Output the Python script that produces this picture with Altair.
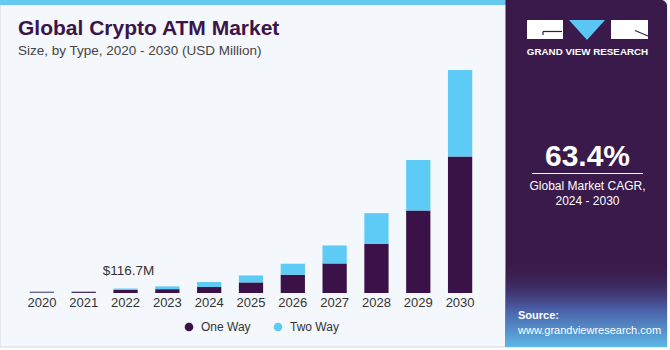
import altair as alt
import pandas as pd

years = ["2020", "2021", "2022", "2023", "2024", "2025", "2026", "2027", "2028", "2029", "2030"]
one_way = [22, 24, 80, 100, 156, 276, 476, 770, 1282, 2148, 3553]
two_way = [22, 24, 36.7, 72, 130, 182, 286, 468, 798, 1318, 2255]
series = ["One Way", "Two Way"]
colors = ["#3A1248", "#5DCBF5"]
annot_year = "2022"
annot_text = "$116.7M"

FONT = "Liberation Sans"
OX, OY = 21, 70          # plot origin on the canvas
W, H = 460, 223


def X(px):
    return px - OX


def Y(py):
    return py - OY


rows = []
for i, yr in enumerate(years):
    rows.append({"year": yr, "type": series[0], "value": one_way[i], "ord": 0})
    rows.append({"year": yr, "type": series[1], "value": two_way[i], "ord": 1})
df = pd.DataFrame(rows)
ymax = max(a + b for a, b in zip(one_way, two_way))

one = pd.DataFrame({"k": [0]})


def rect(x1, x2, y1, y2, **kw):
    return alt.Chart(one).mark_rect(**kw).encode(
        x=alt.value(X(x1)), x2=alt.value(X(x2)), y=alt.value(Y(y1)), y2=alt.value(Y(y2))
    )


def text(s, x, y, **kw):
    return alt.Chart(one).mark_text(font=FONT, **kw).encode(
        x=alt.value(X(x)), y=alt.value(Y(y)), text=alt.value(s)
    )


def rule(x1, y1, x2, y2, **kw):
    return alt.Chart(one).mark_rule(**kw).encode(
        x=alt.value(X(x1)), x2=alt.value(X(x2)), y=alt.value(Y(y1)), y2=alt.value(Y(y2))
    )


card = rect(0, 667, 0, 347, color="#F4F7FB", stroke="#D6DAE0", strokeWidth=1)
stripe = rect(0, 506, 0, 5, color="#66C9F0")
panel = rect(505.5, 667, 0, 347, color="#3A1A4B", cornerRadiusTopRight=6)
panel_grad = rect(
    505.5, 667, 262, 347,
    color=alt.Gradient(
        gradient="linear",
        stops=[
            alt.GradientStop(color="rgba(58,26,75,0)", offset=0),
            alt.GradientStop(color="#4A5EA6", offset=0.55),
            alt.GradientStop(color="#5DB8E8", offset=1),
        ],
        x1=0, x2=0, y1=0, y2=1,
    ),
)

logo_l = rect(527, 563, 20, 39, color="#FFFFFF")
logo_r = rect(611, 648, 20, 39, color="#FFFFFF")
logo_l_line = rule(543, 31.5, 562, 31.5, color="#3A1A4B", strokeWidth=1.2)
logo_l_tick = rule(543, 31.5, 543, 35, color="#3A1A4B", strokeWidth=1.2)
logo_r_line = rule(635, 30.5, 648, 36, color="#3A1A4B", strokeWidth=1.2)
logo_tri = alt.Chart(one).mark_point(
    shape="M-1,-0.56L1,-0.56L0,0.56Z", filled=True, opacity=1, strokeWidth=0, color="#5CC6F2", size=1300
).encode(x=alt.value(X(587)), y=alt.value(Y(30)))
logo_txt = text("GRAND VIEW RESEARCH", 587.5, 55, fontSize=9.8, fontWeight="bold", color="#FFFFFF", align="center", baseline="alphabetic")

cagr = text("63.4%", 587.5, 166, fontSize=30, fontWeight="bold", color="#FFFFFF", align="center", baseline="alphabetic")
cagr_line = rule(532, 173.5, 643, 173.5, color="#FFFFFF", strokeWidth=1)
cagr_t1 = text("Global Market CAGR,", 587.5, 190, fontSize=12, color="#FFFFFF", align="center", baseline="alphabetic")
cagr_t2 = text("2024 - 2030", 587.5, 205, fontSize=12, color="#FFFFFF", align="center", baseline="alphabetic")
src1 = text("Source:", 518, 319, fontSize=11, fontWeight="bold", color="#FFFFFF", align="left", baseline="alphabetic")
src2 = text("www.grandviewresearch.com", 518, 333.5, fontSize=11, color="#FFFFFF", align="left", baseline="alphabetic")

title = text("Global Crypto ATM Market", 18, 35, fontSize=21, fontWeight="bold", color="#3B1548", align="left", baseline="alphabetic")
subtitle = text("Size, by Type, 2020 - 2030 (USD Million)", 18, 54.5, fontSize=13.5, color="#444444", align="left", baseline="alphabetic")

xaxis = alt.Axis(
    title=None, domain=False, ticks=False, labelAngle=0, labelPadding=3, zindex=2,
    labelFont=FONT, labelFontSize=13, labelColor="#333333",
)
xenc = alt.X(
    "year:N",
    sort=years,
    scale=alt.Scale(paddingInner=0.42, paddingOuter=0.21),
    axis=xaxis,
)

bars = alt.Chart(df).mark_bar(stroke=None).encode(
    x=xenc,
    y=alt.Y("value:Q", stack="zero", scale=alt.Scale(domain=[0, ymax], nice=False, zero=True), axis=None),
    color=alt.Color(
        "type:N",
        scale=alt.Scale(domain=series, range=colors),
        legend=alt.Legend(
            title=None, orient="none", direction="horizontal", legendX=162, legendY=251,
            symbolType="circle", symbolSize=75, symbolStrokeWidth=0, labelFont=FONT, labelFontSize=12,
            labelColor="#333333", columnPadding=21, labelOffset=6, zindex=2,
        ),
    ),
    order=alt.Order("ord:Q", sort="ascending"),
)

annot_df = pd.DataFrame({"year": [annot_year], "total": [one_way[years.index(annot_year)] + two_way[years.index(annot_year)]], "label": [annot_text]})
annot = alt.Chart(annot_df).mark_text(font=FONT, fontSize=13.5, color="#333333", dy=-14, dx=3, baseline="alphabetic").encode(
    x=alt.X("year:N", sort=years, axis=xaxis),
    y=alt.Y("total:Q", axis=None),
    text="label:N",
)

chart = alt.layer(
    card, stripe, panel, panel_grad,
    logo_l, logo_r, logo_l_line, logo_l_tick, logo_r_line, logo_tri, logo_txt,
    cagr, cagr_line, cagr_t1, cagr_t2, src1, src2,
    title, subtitle,
    bars, annot,
).properties(
    width=W, height=H,
    autosize="none",
    padding={"left": OX, "top": OY, "right": 670 - OX - W, "bottom": 350 - OY - H},
).configure(background="#FFFFFF").configure_view(strokeWidth=0)

chart.save("out.html", embed_options={"renderer": "svg", "actions": False})
